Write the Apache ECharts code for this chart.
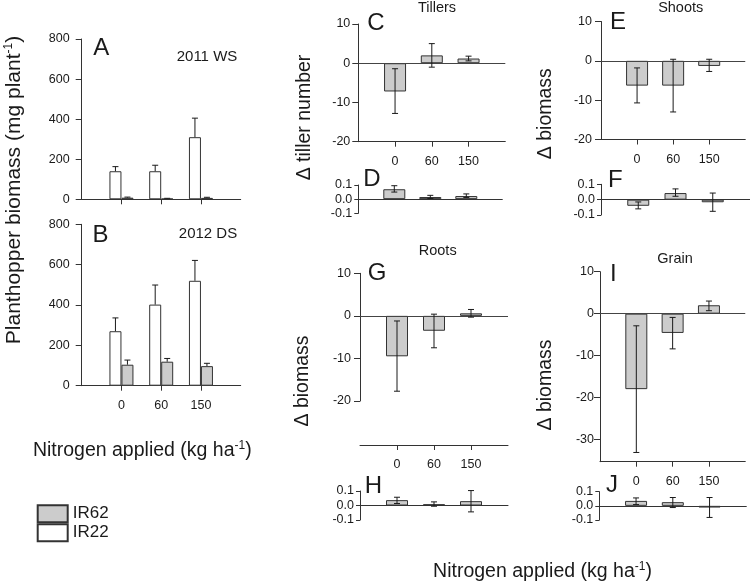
<!DOCTYPE html>
<html><head><meta charset="utf-8">
<script src="https://cdn.jsdelivr.net/npm/echarts@6/dist/echarts.min.js"></script>
<style>html,body{margin:0;padding:0;background:#fff}#c{width:750px;height:583px}</style>
</head><body><div id="c"></div>
<script>
// ---------- data ----------
const nitrogen = ['0', '60', '150'];
const seriesNames = ['IR22', 'IR62'];
// Panel A (2011 WS) and B (2012 DS): bar value and top of error bar
const ir22_2011 = [140, 140, 310];
const ir22_2011_upper = [163, 170, 405];
const ir62_2011 = [8, 3, 7];
const ir62_2011_upper = [11, 5, 10];
const ir22_2012 = [270, 402, 520];
const ir22_2012_upper = [336, 499, 621];
const ir62_2012 = [104, 119, 97];
const ir62_2012_upper = [127, 135, 111];
// Panels C-J: mean, error low, error high
const tillers = [-7.2, 2.0, 1.2];
const tillersLow = [-12.8, -1.0, 0.6];
const tillersHigh = [-1.4, 5.0, 1.8];
const tillersRel = [0.07, 0.015, 0.022];
const tillersRelLow = [0.05, 0.005, 0.012];
const tillersRelHigh = [0.095, 0.027, 0.037];
const shoots = [-6.3, -6.3, -1.3];
const shootsLow = [-10.7, -13.0, -2.7];
const shootsHigh = [-1.8, 0.4, 0.4];
const shootsRel = [-0.04, 0.043, -0.017];
const shootsRelLow = [-0.06, 0.022, -0.076];
const shootsRelHigh = [-0.015, 0.07, 0.043];
const roots = [-9.5, -3.5, 0.6];
const rootsLow = [-17.7, -7.5, -0.3];
const rootsHigh = [-1.2, 0.4, 1.5];
const rootsRel = [0.037, 0.009, 0.03];
const rootsRelLow = [0.014, -0.005, -0.044];
const rootsRelHigh = [0.057, 0.025, 0.103];
const grain = [-18.0, -4.6, 2.0];
const grainLow = [-33.1, -8.4, 0.7];
const grainHigh = [-2.9, -0.9, 3.0];
const grainRel = [0.035, 0.026, -0.012];
const grainRelLow = [0.009, -0.012, -0.082];
const grainRelHigh = [0.056, 0.059, 0.059];
const grainTicks = [-30, -20, -10, 0, 10];

// ---------- helpers ----------
const fam = "'Liberation Sans', Arial, Helvetica, sans-serif";
const axisCol = '#333';
const txtCol = '#1a1a1a';
const grayFill = '#cccccc';
const axisCats = [''].concat(nitrogen, [' ']);
const pad = arr => ['-'].concat(arr, ['-']);
const fmt1 = v => (Math.abs(v) < 1e-9 ? 0 : v).toFixed(1);

const grids = [], xAxes = [], yAxes = [], series = [];

function errItem(offset, capHalf, upperOnly) {
  return function (params, api) {
    const idx = api.value(0);
    const pLo = api.coord([idx, api.value(1)]);
    const pHi = api.coord([idx, api.value(2)]);
    const x = pLo[0] + offset;
    const style = { stroke: '#1a1a1a', lineWidth: 1 };
    const ch = [
      { type: 'line', shape: { x1: x, y1: pLo[1], x2: x, y2: pHi[1] }, style },
      { type: 'line', shape: { x1: x - capHalf, y1: pHi[1], x2: x + capHalf, y2: pHi[1] }, style }
    ];
    if (!upperOnly) ch.push({ type: 'line', shape: { x1: x - capHalf, y1: pLo[1], x2: x + capHalf, y2: pLo[1] }, style });
    return { type: 'group', children: ch };
  };
}

function addAxes(p) {
  const gi = grids.length;
  grids.push({ left: p.left, top: p.top, width: p.width, height: p.height });
  xAxes.push({
    gridIndex: gi, type: 'category', data: axisCats, boundaryGap: false,
    offset: p.offset || 0,
    axisLine: { show: true, onZero: !!p.onZero, lineStyle: { color: axisCol, width: 1 } },
    axisTick: { show: !p.noTicks, interval: (i) => i >= 1 && i <= nitrogen.length, length: 5, lineStyle: { color: axisCol } },
    axisLabel: { show: !!p.xLabels, interval: 0, margin: p.xMargin || 13, fontSize: 12.5, color: txtCol, fontFamily: fam },
    splitLine: { show: false }
  });
  const y = {
    gridIndex: gi, type: 'value', min: p.min, max: p.max,
    axisLine: { show: true, lineStyle: { color: axisCol } },
    axisTick: { show: true, length: p.tickLen || 6, lineStyle: { color: axisCol } },
    axisLabel: { fontSize: 12.5, color: txtCol, margin: p.yMargin || 8, fontFamily: fam },
    splitLine: { show: false }
  };
  if (p.interval !== undefined) y.interval = p.interval;
  if (p.fmt) y.axisLabel.formatter = p.fmt;
  if (p.customTicks) { y.axisTick.customValues = p.customTicks; y.axisLabel.customValues = p.customTicks; }
  yAxes.push(y);
  return gi;
}

function deltaPanel(p, name, vals, low, high) {
  const gi = addAxes(p);
  const bar = {
    type: 'bar', name: name, xAxisIndex: gi, yAxisIndex: gi, data: pad(vals), barWidth: 22,
    itemStyle: { color: grayFill, borderColor: '#333', borderWidth: 1 }, silent: true
  };
  if (p.zeroLine) {
    bar.markLine = {
      silent: true, symbol: ['none', 'none'], label: { show: false },
      lineStyle: { color: '#444', type: 'solid', width: 1 }, data: [{ yAxis: 0 }]
    };
  }
  series.push(bar);
  series.push({
    type: 'custom', xAxisIndex: gi, yAxisIndex: gi, z: 5, silent: true,
    data: vals.map((v, i) => [i + 1, low[i], high[i]]), encode: { x: 0, y: [1, 2] },
    renderItem: errItem(0, 3, false)
  });
}

function biomassPanel(p, v22, u22, v62, u62) {
  const gi = addAxes(p);
  const defs = [
    [seriesNames[0], v22, u22, '#ffffff', -6],
    [seriesNames[1], v62, u62, grayFill, 6]
  ];
  defs.forEach(d => {
    series.push({
      type: 'bar', name: d[0], xAxisIndex: gi, yAxisIndex: gi, data: pad(d[1]),
      barWidth: 12, barGap: '0%', silent: true,
      itemStyle: { color: d[3], borderColor: '#333', borderWidth: 1 }
    });
  });
  defs.forEach(d => {
    series.push({
      type: 'custom', xAxisIndex: gi, yAxisIndex: gi, z: 5, silent: true,
      data: d[1].map((v, i) => [i + 1, v, d[2][i]]), encode: { x: 0, y: [1, 2] },
      renderItem: errItem(d[4], 3, true)
    });
  });
}

// ---------- panels ----------
biomassPanel({ left: 81.7, top: 39, width: 159, height: 160.3, min: 0, max: 800, interval: 200, yMargin: 12 },
  ir22_2011, ir22_2011_upper, ir62_2011, ir62_2011_upper);
biomassPanel({ left: 81.7, top: 224.3, width: 159, height: 161.4, min: 0, max: 800, interval: 200, yMargin: 12, xLabels: true, xMargin: 13 },
  ir22_2012, ir22_2012_upper, ir62_2012, ir62_2012_upper);

deltaPanel({ left: 358.3, top: 24, width: 147, height: 117.7, min: -20, max: 10, interval: 10, xLabels: true, zeroLine: true },
  'Tillers', tillers, tillersLow, tillersHigh);
deltaPanel({ left: 358.3, top: 185, width: 144, height: 28.3, min: -0.1, max: 0.1, interval: 0.1, onZero: true, noTicks: true, fmt: fmt1, tickLen: 4, yMargin: 6 },
  'Tillers rel', tillersRel, tillersRelLow, tillersRelHigh);
deltaPanel({ left: 601, top: 21.5, width: 148, height: 118, min: -20, max: 10, interval: 10, xLabels: true, xMargin: 14, zeroLine: true, yMargin: 9 },
  'Shoots', shoots, shootsLow, shootsHigh);
deltaPanel({ left: 601, top: 184.3, width: 149, height: 30.7, min: -0.1, max: 0.1, interval: 0.1, onZero: true, noTicks: true, fmt: fmt1, tickLen: 4, yMargin: 6 },
  'Shoots rel', shootsRel, shootsRelLow, shootsRelHigh);
deltaPanel({ left: 360, top: 273.3, width: 148, height: 127.7, min: -20, max: 10, interval: 10, xLabels: true, offset: 44, zeroLine: true, yMargin: 9 },
  'Roots', roots, rootsLow, rootsHigh);
deltaPanel({ left: 360, top: 491, width: 148, height: 29, min: -0.1, max: 0.1, interval: 0.1, onZero: true, noTicks: true, fmt: fmt1, tickLen: 4, yMargin: 6 },
  'Roots rel', rootsRel, rootsRelLow, rootsRelHigh);
deltaPanel({ left: 600, top: 271.7, width: 146, height: 190, min: -35.3, max: 10, customTicks: grainTicks, xLabels: true, zeroLine: true, yMargin: 6 },
  'Grain', grain, grainLow, grainHigh);
deltaPanel({ left: 599.3, top: 491.7, width: 147, height: 28.3, min: -0.1, max: 0.1, interval: 0.1, onZero: true, noTicks: true, fmt: fmt1, tickLen: 4, yMargin: 6 },
  'Grain rel', grainRel, grainRelLow, grainRelHigh);

// ---------- text ----------
function txt(text, x, y, size, rot, rich) {
  const style = {
    text: text, fill: txtCol, fontSize: size, fontFamily: fam,
    align: 'center', verticalAlign: 'middle', textAlign: 'center', textVerticalAlign: 'middle'
  };
  if (rich) style.rich = rich;
  return { type: 'text', x: x, y: y, rotation: rot || 0, silent: true, style: style };
}
const richSup = size => ({
  a: { fontSize: size, fontFamily: fam, fill: txtCol },
  s: { fontSize: 12, fontFamily: fam, fill: txtCol, padding: [0, 0, 10, 0] }
});
const R = Math.PI / 2;
const graphics = [
  txt('2011 WS', 207, 57.3, 15),
  txt('2012 DS', 208, 234.3, 15),
  txt('A', 101.3, 48.8, 24), txt('B', 100.5, 235, 24),
  txt('Tillers', 437, 8.3, 14.5), txt('Shoots', 680.7, 8, 14.5),
  txt('Roots', 437.7, 251, 14.5), txt('Grain', 675, 259, 14.5),
  txt('C', 375.8, 23.8, 24), txt('D', 372, 179, 24), txt('E', 618, 22.3, 24), txt('F', 615.3, 180.8, 24),
  txt('G', 377, 273.8, 24), txt('H', 373.3, 486, 24), txt('I', 613.3, 274.5, 24), txt('J', 612, 485.5, 24),
  txt('Δ tiller number', 305, 117.5, 19.5, R),
  txt('Δ biomass', 546, 113.7, 19.5, R),
  txt('Δ biomass', 303, 381, 19.5, R),
  txt('Δ biomass', 545.5, 385, 19.5, R),
  txt('{a|Planthopper biomass (mg plant}{s|-1}{a|)}', 14, 190, 21, R, richSup(21)),
  txt('{a|Nitrogen applied (kg ha}{s|-1}{a|)}', 142.3, 451, 19.5, 0, richSup(19.5)),
  txt('{a|Nitrogen applied (kg ha}{s|-1}{a|)}', 542.5, 571.7, 19.5, 0, richSup(19.5))
];

const chart = echarts.init(document.getElementById('c'), null, { renderer: 'canvas' });
chart.setOption({
  animation: false,
  backgroundColor: '#ffffff',
  textStyle: { fontFamily: fam },
  legend: {
    data: ['IR62', 'IR22'], orient: 'vertical', left: 36.7, top: 504.3,
    itemWidth: 30, itemHeight: 17, itemGap: 0, padding: 0, icon: 'rect', selectedMode: false,
    textStyle: { fontSize: 17, color: txtCol, lineHeight: 17, fontFamily: fam }
  },
  grid: grids, xAxis: xAxes, yAxis: yAxes, series: series,
  graphic: graphics
});
</script></body></html>
